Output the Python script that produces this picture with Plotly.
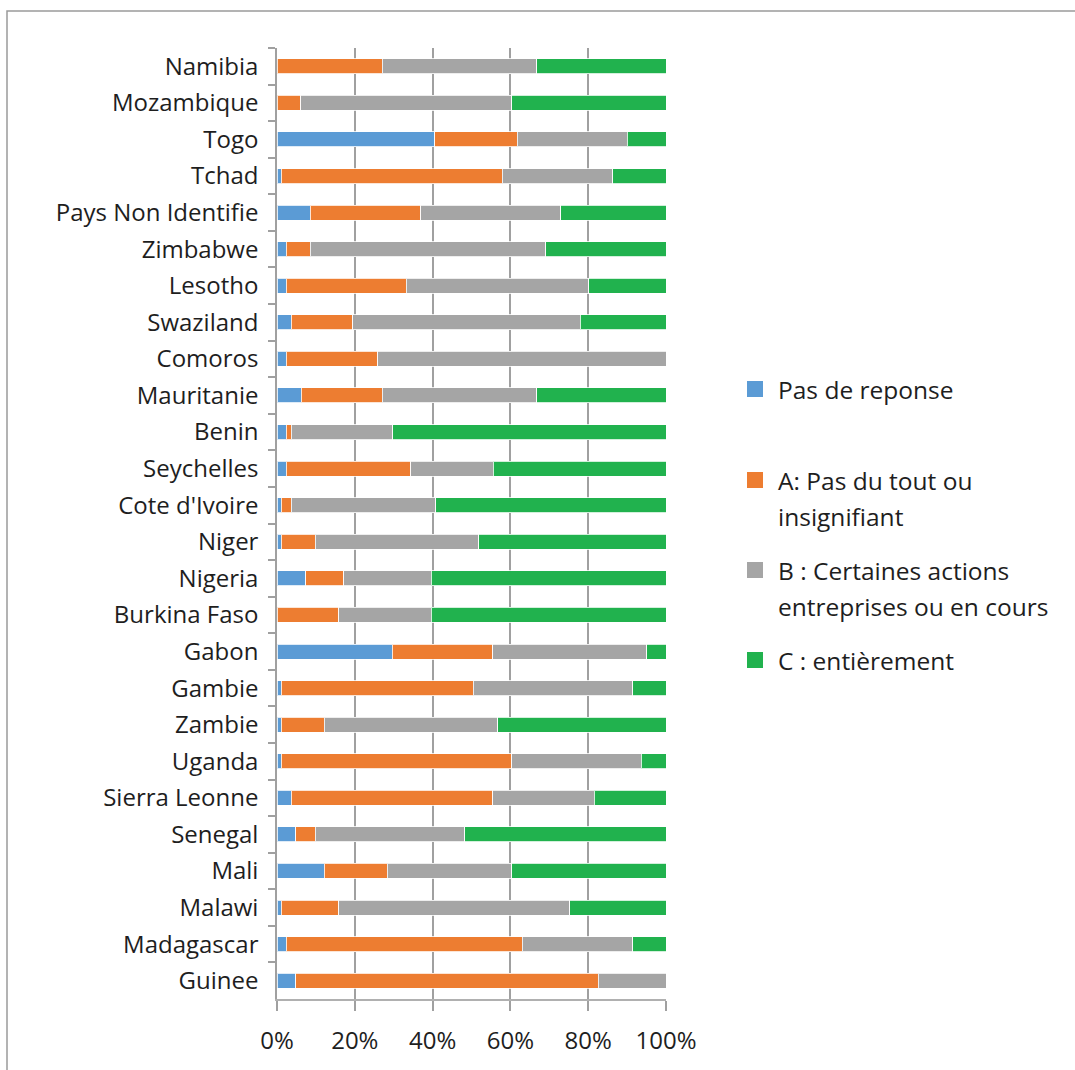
import plotly.graph_objects as go

countries = ["Namibia", "Mozambique", "Togo", "Tchad", "Pays Non Identifie", "Zimbabwe",
             "Lesotho", "Swaziland", "Comoros", "Mauritanie", "Benin", "Seychelles",
             "Cote d'Ivoire", "Niger", "Nigeria", "Burkina Faso", "Gabon", "Gambie",
             "Zambie", "Uganda", "Sierra Leonne", "Senegal", "Mali", "Malawi",
             "Madagascar", "Guinee"]

pas_de_reponse = [0, 0, 40.6, 1.1, 8.5, 2.4, 2.4, 3.7, 2.4, 6.2, 2.4, 2.4, 1.1, 1.1,
                  7.4, 0, 29.6, 1.1, 1.1, 1.1, 3.7, 4.8, 12.2, 1.1, 2.4, 4.8]
a_pas_du_tout = [27.1, 6.1, 21.1, 56.8, 28.5, 6.1, 30.8, 15.8, 23.5, 20.9, 1.3, 32.0,
                 2.6, 8.7, 9.8, 15.9, 25.9, 49.4, 11.0, 59.2, 51.8, 5.0, 16.2, 14.8,
                 60.6, 77.8]
b_certaines = [39.7, 54.3, 28.4, 28.4, 35.9, 60.6, 47.0, 58.4, 74.1, 39.7, 26.0, 21.2,
               37.1, 42.1, 22.4, 23.7, 39.5, 40.9, 44.7, 33.4, 26.0, 38.4, 31.9, 59.4,
               28.4, 17.4]
c_entierement = [33.2, 39.7, 9.9, 13.7, 27.1, 30.9, 19.8, 22.1, 0, 33.2, 70.3, 44.4,
                 59.2, 48.1, 60.4, 60.4, 5.0, 8.6, 43.2, 6.3, 18.5, 51.8, 39.7, 24.7,
                 8.6, 0]

series_names = ["Pas de reponse", "A: Pas du tout ou insignifiant",
                "B : Certaines actions entreprises ou en cours", "C : entièrement"]
series_values = [pas_de_reponse, a_pas_du_tout, b_certaines, c_entierement]
colors = ["#5B9BD5", "#ED7D31", "#A5A5A5", "#21B24E"]

x_tickvals = [0, 20, 40, 60, 80, 100]
x_ticktext = ["0%", "20%", "40%", "60%", "80%", "100%"]

FONT = "Open Sans"
TXT = "#1e1e1e"
W, H = 1075, 1070
L, R, T, B = 277, 409, 48, 71
pw, ph = W - L - R, H - T - B

fig = go.Figure()
for name, vals, col in zip(series_names, series_values, colors):
    fig.add_trace(go.Bar(
        y=countries, x=vals, name=name, orientation="h",
        marker=dict(color=col, line=dict(color="rgba(255,255,255,0.8)", width=1)),
        width=0.41, showlegend=False,
    ))

fig.update_layout(
    barmode="stack",
    width=W, height=H,
    margin=dict(l=L, r=R, t=T, b=B, pad=0),
    paper_bgcolor="white", plot_bgcolor="white",
    font=dict(family=FONT, size=24, color=TXT),
)
fig.update_xaxes(
    range=[0, 100], tickvals=x_tickvals, ticktext=x_ticktext,
    showgrid=True, gridcolor="#a0a0a0", gridwidth=1.5,
    showline=True, linecolor="#b0b0b0", linewidth=1.5,
    ticks="outside", ticklen=10, tickcolor="#a0a0a0", tickwidth=1.5,
    tickfont=dict(size=24, family=FONT, color=TXT),
    ticklabelstandoff=9,
    zeroline=False, fixedrange=True,
)
fig.update_yaxes(
    autorange="reversed", type="category",
    showline=True, linecolor="#a0a0a0", linewidth=1.5,
    ticks="outside", ticklen=7, tickcolor="#a0a0a0", tickwidth=1.5,
    tickson="boundaries", showgrid=False,
    tickfont=dict(size=24, family=FONT, color=TXT),
    ticklabelstandoff=12,
)

def px_x(p):
    return (p - L) / pw

def px_y(p):
    return 1 - (p - T) / ph

# outer chart frame
fig.add_shape(type="rect", xref="paper", yref="paper",
              x0=px_x(7), x1=px_x(1090), y0=px_y(1090), y1=px_y(11),
              line=dict(color="#9a9a9a", width=1.5), fillcolor="rgba(0,0,0,0)", layer="below")

# legend drawn manually
legend_items = [
    (colors[0], ["Pas de reponse"], 389),
    (colors[1], ["A: Pas du tout ou", "insignifiant"], 480),
    (colors[2], ["B : Certaines actions", "entreprises ou en cours"], 570),
    (colors[3], ["C : entièrement"], 660),
]
for col, lines, yc in legend_items:
    fig.add_shape(type="rect", xref="paper", yref="paper",
                  x0=px_x(747), x1=px_x(763), y0=px_y(yc + 8), y1=px_y(yc - 8),
                  fillcolor=col, line=dict(width=0))
    for i, ln in enumerate(lines):
        fig.add_annotation(xref="paper", yref="paper", x=px_x(776), y=px_y(yc + i * 36),
                           text=ln, showarrow=False, xanchor="left", yanchor="middle",
                           font=dict(family=FONT, size=24.5, color=TXT))

fig.write_html("out.html")
